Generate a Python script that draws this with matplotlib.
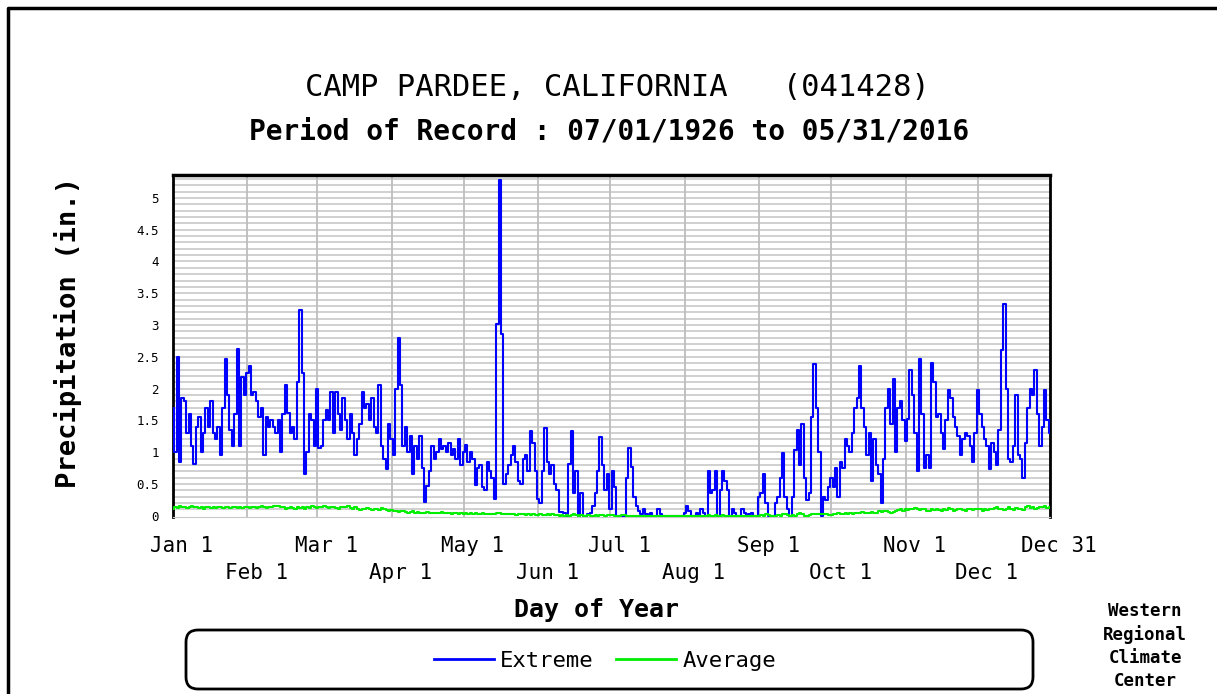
import matplotlib
matplotlib.use("Agg")
import matplotlib.pyplot as plt
from matplotlib.lines import Line2D
from matplotlib.patches import FancyBboxPatch
from matplotlib.transforms import ScaledTranslation
import numpy as np

plt.rcParams['font.family'] = ['DejaVu Sans Mono']

# daily extreme precipitation (in.) (leap year, 366 days)
ext_jan = [1.7, 1.0, 2.5, 0.85, 1.85, 1.8, 1.3, 1.6, 1.1, 0.82, 1.4, 1.55, 1.0, 1.3, 1.7, 1.4,
           1.8, 1.3, 1.2, 1.4, 0.95, 1.7, 2.47, 1.9, 1.35, 1.1, 1.6, 2.63, 1.1, 2.18, 1.9]
ext_feb = [2.25, 2.36, 1.9, 1.95, 1.8, 1.55, 1.7, 0.95, 1.55, 1.4, 1.5, 1.4, 1.3, 1.5, 1.0,
           1.6, 2.05, 1.62, 1.3, 1.4, 1.2, 2.1, 3.23, 2.25, 0.66, 1.0, 1.6, 1.5, 1.1]
ext_mar = [2.0, 1.06, 1.1, 1.5, 1.67, 1.5, 1.95, 1.3, 1.95, 1.6, 1.35, 1.85, 1.5, 1.2, 1.6, 1.3,
           0.96, 1.2, 1.45, 1.95, 1.7, 1.75, 1.5, 1.85, 1.4, 1.3, 2.05, 1.1, 0.9, 0.74, 1.45]
ext_apr = [1.2, 0.95, 2.0, 2.8, 2.05, 1.1, 1.4, 1.0, 1.25, 0.66, 1.1, 0.9, 1.25, 0.75, 0.22,
           0.47, 0.7, 1.1, 0.9, 1.0, 1.2, 1.05, 1.1, 1.0, 1.15, 0.95, 1.05, 0.9, 1.2, 0.8]
ext_may = [1.0, 1.12, 0.85, 1.0, 0.9, 0.49, 0.75, 0.8, 0.45, 0.4, 0.85, 0.7, 0.6, 0.27, 3.02,
           5.28, 2.86, 0.5, 0.65, 0.8, 0.95, 1.1, 0.85, 0.55, 0.5, 0.9, 0.95, 0.7, 1.33, 1.15, 0.7]
ext_jun = [0.26, 0.2, 0.7, 1.38, 0.85, 0.65, 0.8, 0.5, 0.4, 0.06, 0.06, 0.05, 0.0, 0.81, 1.33,
           0.35, 0.7, 0.0, 0.35, 0.0, 0.0, 0.02, 0.05, 0.15, 0.35, 0.7, 1.24, 0.8, 0.4, 0.65]
ext_jul = [0.1, 0.7, 0.45, 0.0, 0.0, 0.0, 0.0, 0.6, 1.06, 0.76, 0.3, 0.15, 0.08, 0.02, 0.1, 0.02,
           0.0, 0.05, 0.0, 0.0, 0.1, 0.02, 0.0, 0.0, 0.0, 0.0, 0.0, 0.0, 0.0, 0.0, 0.0]
ext_aug = [0.05, 0.15, 0.08, 0.0, 0.0, 0.05, 0.0, 0.1, 0.05, 0.0, 0.7, 0.35, 0.4, 0.7, 0.0, 0.4,
           0.7, 0.55, 0.4, 0.0, 0.1, 0.05, 0.0, 0.0, 0.1, 0.05, 0.0, 0.02, 0.05, 0.0, 0.0]
ext_sep = [0.3, 0.36, 0.65, 0.2, 0.0, 0.0, 0.0, 0.2, 0.3, 0.6, 0.98, 0.3, 0.1, 0.0, 0.3, 1.04,
           1.35, 0.8, 1.45, 0.6, 0.25, 0.35, 1.55, 2.39, 1.7, 1.0, 0.0, 0.3, 0.25, 0.45]
ext_oct = [0.6, 0.45, 0.75, 0.3, 0.85, 0.75, 1.21, 1.1, 1.0, 1.3, 1.7, 1.85, 2.36, 1.7, 1.4,
           0.95, 1.3, 0.55, 1.2, 0.8, 0.65, 0.2, 0.9, 1.7, 2.0, 1.45, 2.15, 1.0, 1.7, 1.8, 1.5]
ext_nov = [1.17, 1.52, 2.3, 1.9, 1.3, 0.7, 2.47, 1.6, 0.75, 0.95, 0.75, 2.4, 2.1, 1.55, 1.6,
           1.3, 1.05, 1.5, 1.97, 1.85, 1.55, 1.4, 1.25, 0.95, 1.2, 1.3, 1.25, 1.1, 0.85, 1.3]
ext_dec = [1.97, 1.6, 1.4, 1.2, 1.1, 0.73, 1.15, 1.0, 0.8, 1.35, 2.6, 3.33, 2.0, 0.9, 0.85, 1.1,
           1.9, 0.95, 0.9, 0.59, 1.15, 1.7, 2.0, 1.9, 2.3, 1.6, 1.1, 1.4, 1.97, 1.5, 1.3]

# daily average precipitation (in.)
avg_jan = [0.10, 0.14, 0.12, 0.15, 0.13, 0.14, 0.12, 0.13, 0.15, 0.13, 0.14, 0.12, 0.13, 0.11,
           0.13, 0.14, 0.12, 0.13, 0.12, 0.14, 0.13, 0.12, 0.14, 0.13, 0.12, 0.13, 0.14, 0.12,
           0.13, 0.12, 0.14]
avg_feb = [0.13, 0.12, 0.14, 0.13, 0.12, 0.14, 0.15, 0.13, 0.12, 0.14, 0.13, 0.15, 0.16, 0.16,
           0.14, 0.13, 0.11, 0.12, 0.14, 0.12, 0.10, 0.13, 0.12, 0.14, 0.11, 0.13, 0.12, 0.15,
           0.13]
avg_mar = [0.12, 0.14, 0.13, 0.15, 0.14, 0.12, 0.13, 0.14, 0.12, 0.11, 0.13, 0.14, 0.13, 0.15,
           0.12, 0.11, 0.13, 0.10, 0.09, 0.11, 0.10, 0.12, 0.11, 0.09, 0.10, 0.11, 0.09, 0.12,
           0.10, 0.09, 0.08]
avg_apr = [0.09, 0.08, 0.07, 0.06, 0.08, 0.07, 0.06, 0.05, 0.06, 0.07, 0.05, 0.06, 0.05, 0.04,
           0.05, 0.06, 0.04, 0.05, 0.04, 0.05, 0.04, 0.06, 0.04, 0.05, 0.04, 0.03, 0.05, 0.04,
           0.03, 0.04]
avg_may = [0.03, 0.04, 0.03, 0.05, 0.03, 0.04, 0.02, 0.03, 0.04, 0.03, 0.02, 0.03, 0.02, 0.03,
           0.04, 0.05, 0.03, 0.02, 0.03, 0.02, 0.03, 0.02, 0.01, 0.02, 0.03, 0.02, 0.01, 0.02,
           0.01, 0.02, 0.01]
avg_jun = [0.01, 0.02, 0.01, 0.01, 0.02, 0.01, 0.02, 0.01, 0.01, 0.00, 0.01, 0.00, 0.01, 0.00,
           0.01, 0.02, 0.01, 0.00, 0.01, 0.00, 0.00, 0.01, 0.00, 0.00, 0.01, 0.00, 0.01, 0.01,
           0.00, 0.01]
avg_jul = [0.01, 0.01, 0.00, 0.00, 0.00, 0.01, 0.01, 0.00, 0.00, 0.00, 0.00, 0.00, 0.00, 0.00,
           0.00, 0.00, 0.00, 0.00, 0.00, 0.00, 0.00, 0.00, 0.00, 0.00, 0.00, 0.00, 0.00, 0.00,
           0.00, 0.00, 0.00]
avg_aug = [0.00, 0.00, 0.00, 0.00, 0.00, 0.00, 0.00, 0.00, 0.00, 0.00, 0.01, 0.00, 0.00, 0.01,
           0.00, 0.00, 0.01, 0.00, 0.00, 0.00, 0.00, 0.00, 0.00, 0.00, 0.00, 0.00, 0.00, 0.00,
           0.00, 0.00, 0.00]
avg_sep = [0.00, 0.01, 0.00, 0.02, 0.01, 0.00, 0.00, 0.00, 0.01, 0.00, 0.02, 0.03, 0.01, 0.00,
           0.01, 0.00, 0.02, 0.04, 0.02, 0.00, 0.00, 0.01, 0.02, 0.03, 0.02, 0.03, 0.02, 0.03,
           0.02, 0.01]
avg_oct = [0.01, 0.03, 0.02, 0.04, 0.03, 0.02, 0.04, 0.03, 0.05, 0.03, 0.04, 0.05, 0.04, 0.06,
           0.05, 0.04, 0.05, 0.06, 0.05, 0.04, 0.07, 0.06, 0.08, 0.07, 0.06, 0.05, 0.06, 0.08,
           0.09, 0.10, 0.08]
avg_nov = [0.10, 0.09, 0.11, 0.10, 0.12, 0.10, 0.09, 0.11, 0.10, 0.07, 0.08, 0.10, 0.09, 0.11,
           0.09, 0.08, 0.10, 0.09, 0.12, 0.10, 0.07, 0.09, 0.11, 0.10, 0.09, 0.08, 0.10, 0.11,
           0.09, 0.10]
avg_dec = [0.11, 0.10, 0.08, 0.10, 0.09, 0.11, 0.10, 0.12, 0.13, 0.11, 0.10, 0.09, 0.11, 0.13,
           0.10, 0.09, 0.12, 0.11, 0.10, 0.09, 0.13, 0.15, 0.12, 0.14, 0.11, 0.12, 0.14, 0.13,
           0.15, 0.12, 0.14]

row1_days = [1, 61, 122, 183, 245, 306, 366]
row1_labels = ["Jan 1", "Mar 1", "May 1", "Jul 1", "Sep 1", "Nov 1", "Dec 31"]
row2_days = [32, 92, 153, 214, 275, 336]
row2_labels = ["Feb 1", "Apr 1", "Jun 1", "Aug 1", "Oct 1", "Dec 1"]
y_ticks = [0, 0.5, 1, 1.5, 2, 2.5, 3, 3.5, 4, 4.5, 5]
y_labels = ["0", "0.5", "1", "1.5", "2", "2.5", "3", "3.5", "4", "4.5", "5"]

extreme = (ext_jan + ext_feb + ext_mar + ext_apr + ext_may + ext_jun +
           ext_jul + ext_aug + ext_sep + ext_oct + ext_nov + ext_dec)
average = (avg_jan + avg_feb + avg_mar + avg_apr + avg_may + avg_jun +
           avg_jul + avg_aug + avg_sep + avg_oct + avg_nov + avg_dec)
days = np.arange(1, len(extreme) + 1)

fig = plt.figure(figsize=(12.17, 6.94), dpi=100)
ax = fig.add_axes([173 / 1217, 1 - 517 / 694, 877 / 1217, 342 / 694])

# grid: dense horizontal lines every 0.1, vertical at month starts
for v in np.arange(0.1, 5.4, 0.1):
    ax.axhline(v, color='#cdcdcd', lw=1.3, zorder=0)
for d in row1_days[1:-1] + row2_days:
    ax.axvline(d, color='#bdbdbd', lw=1.3, zorder=0)

ax.plot(days, extreme, color='#0000ff', lw=1.5, drawstyle='steps-mid', zorder=3)
ax.plot(days[:len(average)], average, color='#00ee00', lw=1.5, drawstyle='steps-mid', zorder=4)

ax.set_xlim(1, 366)
ax.set_ylim(-0.02, 5.36)

ax.set_xticks(row1_days, row1_labels)
ax.set_xticks(row2_days, row2_labels, minor=True)
ax.tick_params(axis='x', which='major', length=0, pad=14, labelsize=15)
ax.tick_params(axis='x', which='minor', length=0, pad=33, labelsize=15)
shift = ScaledTranslation(9 / 100, 0, fig.dpi_scale_trans)
for lbl in ax.get_xticklabels(which='both'):
    lbl.set_transform(lbl.get_transform() + shift)

ax.set_yticks(y_ticks, y_labels)
ax.tick_params(axis='y', length=0, pad=10, labelsize=9)

ax.spines['top'].set_linewidth(2.5)
ax.spines['left'].set_linestyle((0, (1.5, 1)))
ax.spines['right'].set_linestyle((0, (1.5, 1)))
ax.spines['left'].set_linewidth(2)
ax.spines['right'].set_linewidth(2)
ax.spines['bottom'].set_color('#c8c8c8')

ax.set_xlabel("Day of Year", fontsize=18, fontweight='bold')
ax.xaxis.set_label_coords(0.483, -0.237)
ax.set_ylabel("Precipitation (in.)", fontsize=19.5, fontweight='bold')
ax.yaxis.set_label_coords(-0.104, 0.54)

fig.text(617 / 1217, 1 - 88 / 694, "CAMP PARDEE, CALIFORNIA   (041428)",
         ha='center', va='center', fontsize=22)
fig.text(609 / 1217, 1 - 131 / 694, "Period of Record : 07/01/1926 to 05/31/2016",
         ha='center', va='center', fontsize=20, fontweight='bold')

# legend box
box = FancyBboxPatch((1.86, 0.05), 8.47, 0.59, boxstyle="round,pad=0,rounding_size=0.12",
                     transform=fig.dpi_scale_trans, fc='white', ec='black', lw=2)
fig.add_artist(box)
handles = [Line2D([], [], color='#0000ff', lw=2), Line2D([], [], color='#00ee00', lw=2)]
fig.legend(handles, ["Extreme", "Average"], loc='center', bbox_to_anchor=(605 / 1217, 1 - 661 / 694),
           ncol=2, frameon=False, fontsize=16, handlelength=2.7, columnspacing=1.0,
           handletextpad=0.3)

fig.text(1145 / 1217, 1 - 646 / 694, "Western\nRegional\nClimate\nCenter",
         ha='center', va='center', fontsize=12.5, fontweight='bold', linespacing=1.35)

# outer frame of the page
fig.add_artist(Line2D([8 / 1217, 8 / 1217, 1.0], [0.0, 1 - 8 / 694, 1 - 8 / 694],
                      color='black', lw=2.5, transform=fig.transFigure))

fig.savefig("out.png", dpi=100, facecolor='white')
